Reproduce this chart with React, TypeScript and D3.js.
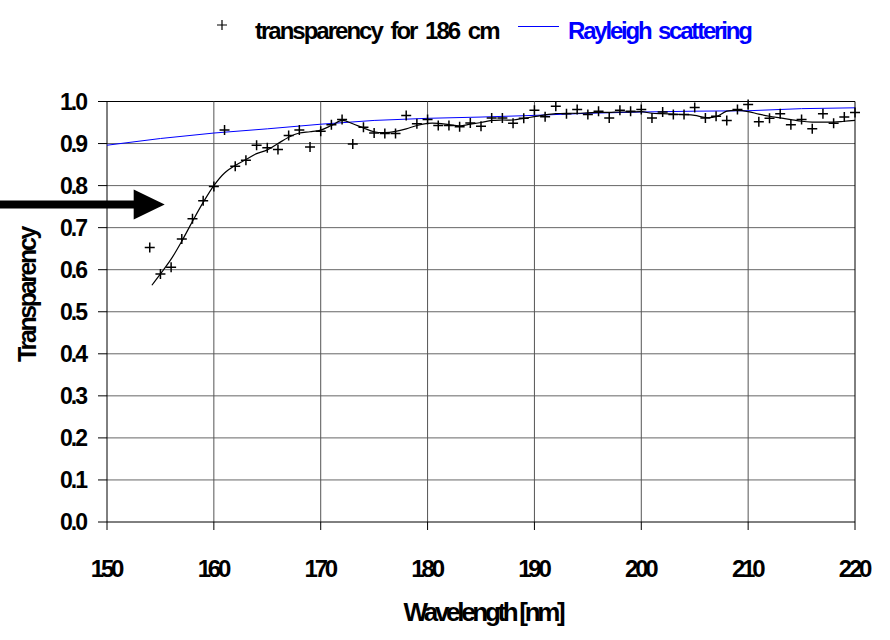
import React from 'react';
import * as d3 from 'd3';

// measured transparency, one point per nm
const measuredNm = [
  154, 155, 156, 157, 158, 159, 160, 161, 162, 163, 164, 165, 166, 167, 168, 169, 170,
  171, 172, 173, 174, 175, 176, 177, 178, 179, 180, 181, 182, 183, 184, 185, 186, 187,
  188, 189, 190, 191, 192, 193, 194, 195, 196, 197, 198, 199, 200, 201, 202, 203, 204,
  205, 206, 207, 208, 209, 210, 211, 212, 213, 214, 215, 216, 217, 218, 219, 220,
];
const measuredT = [
  0.653, 0.59, 0.606, 0.673, 0.721, 0.764, 0.798, 0.932, 0.846, 0.86, 0.896, 0.89, 0.886,
  0.919, 0.932, 0.892, 0.929, 0.945, 0.957, 0.899, 0.939, 0.925, 0.924, 0.924, 0.967,
  0.947, 0.957, 0.943, 0.943, 0.94, 0.949, 0.941, 0.961, 0.961, 0.948, 0.96, 0.979,
  0.964, 0.989, 0.971, 0.981, 0.969, 0.977, 0.961, 0.979, 0.977, 0.981, 0.961, 0.975,
  0.969, 0.969, 0.986, 0.961, 0.965, 0.955, 0.981, 0.993, 0.952, 0.96, 0.971, 0.945,
  0.957, 0.935, 0.971, 0.948, 0.963, 0.974,
];

// smoothed trend through the measurement
const trendNm = [
  154.2, 155, 156, 157, 158, 159, 160, 161, 162, 163, 164, 165, 166, 167, 168, 169, 170,
  171, 172, 173, 174, 175, 176, 177, 178, 179, 180, 181, 182, 183, 184, 185, 186, 187,
  188, 189, 190, 191, 192, 193, 194, 195, 196, 197, 198, 199, 200, 201, 202, 203, 204,
  205, 206, 207, 208, 209, 210, 211, 212, 213, 214, 215, 216, 217, 218, 219, 220,
];
const trendT = [
  0.563, 0.59, 0.625, 0.668, 0.715, 0.76, 0.8, 0.83, 0.848, 0.862, 0.876, 0.885, 0.9,
  0.915, 0.925, 0.928, 0.932, 0.943, 0.955, 0.947, 0.937, 0.928, 0.926, 0.929, 0.935,
  0.943, 0.948, 0.948, 0.945, 0.942, 0.946, 0.95, 0.955, 0.956, 0.956, 0.96, 0.964,
  0.968, 0.971, 0.972, 0.972, 0.973, 0.974, 0.974, 0.975, 0.975, 0.976, 0.972, 0.971,
  0.97, 0.969, 0.967, 0.962, 0.964, 0.977, 0.979, 0.976, 0.97, 0.965, 0.961, 0.957,
  0.953, 0.951, 0.951, 0.951, 0.953, 0.955,
];

// Rayleigh scattering curve
const rayleighNm = [150, 155, 160, 165, 170, 175, 180, 185, 190, 195, 200, 205, 210, 215, 220];
const rayleighT = [0.896, 0.912, 0.925, 0.935, 0.946, 0.955, 0.96, 0.963, 0.967, 0.972, 0.975, 0.977, 0.978, 0.983, 0.985];

const xTicks = [150, 160, 170, 180, 190, 200, 210, 220];
const yTicks = [0, 0.1, 0.2, 0.3, 0.4, 0.5, 0.6, 0.7, 0.8, 0.9, 1.0];

// arrow annotation: tip wavelength / level
const arrowTip = { nm: 155.4, t: 0.755 };

const width = 890;
const height = 640;
const margin = { top: 101.5, right: 35, bottom: 118, left: 107 };
const font = '"Liberation Sans", Arial, sans-serif';

export default function App() {
  const x = d3.scaleLinear().domain([150, 220]).range([margin.left, width - margin.right]);
  const y = d3.scaleLinear().domain([0, 1]).range([height - margin.bottom, margin.top]);

  const trendLine = d3.line<number>()
    .x((_, i) => x(trendNm[i]))
    .y(d => y(d))
    .curve(d3.curveCatmullRom);
  const rayleighLine = d3.line<number>()
    .x((_, i) => x(rayleighNm[i]))
    .y(d => y(d));

  const ay = y(arrowTip.t);
  const ax = x(arrowTip.nm);

  return (
    <svg width={width} height={height} style={{ position: 'absolute', left: 0, top: 0 }}>
      <rect width={width} height={height} fill="#fff" />

      {/* grid */}
      {yTicks.slice(1).map(t => (
        <line key={'gy' + t} x1={x(150)} x2={x(220)} y1={y(t)} y2={y(t)}
          stroke={t === 1 ? '#000' : '#666'} strokeWidth={1} />
      ))}
      {xTicks.slice(1).map(t => (
        <line key={'gx' + t} x1={x(t)} x2={x(t)} y1={y(0)} y2={y(1)}
          stroke={t === 220 ? '#000' : '#555'} strokeWidth={1} />
      ))}

      {/* axes */}
      <line x1={x(150)} x2={x(150)} y1={y(0)} y2={y(1)} stroke="#000" />
      <line x1={x(150)} x2={x(220)} y1={y(0)} y2={y(0)} stroke="#000" />
      {yTicks.map(t => (
        <g key={'ty' + t}>
          <line x1={x(150) - 9} x2={x(150)} y1={y(t)} y2={y(t)} stroke="#000" />
          <text x={x(150) - 21} y={y(t)} dy="0.36em" textAnchor="end" fontFamily={font}
            fontWeight="bold" fontSize={23} letterSpacing={-2}>{t.toFixed(1)}</text>
        </g>
      ))}
      {xTicks.map(t => (
        <g key={'tx' + t}>
          <line x1={x(t)} x2={x(t)} y1={y(0)} y2={y(0) + 8} stroke="#000" />
          <text x={x(t) - 1} y={y(0) + 55} textAnchor="middle" fontFamily={font}
            fontWeight="bold" fontSize={24} letterSpacing={-3.2}>{t}</text>
        </g>
      ))}

      <text x={483} y={621} textAnchor="middle" fontFamily={font}
        fontWeight="bold" fontSize={26} letterSpacing={-3.3}>Wavelength [nm]</text>
      <text transform="translate(36,295) rotate(-90)" textAnchor="middle"
        fontFamily={font} fontWeight="bold" fontSize={25} letterSpacing={-2.4}>Transparency</text>

      {/* series */}
      <path d={rayleighLine(rayleighT) ?? ''} fill="none" stroke="#0000ff" strokeWidth={1} />
      <path d={trendLine(trendT) ?? ''} fill="none" stroke="#000" strokeWidth={1.2} />
      {measuredT.map((t, i) => {
        const cx = x(measuredNm[i]);
        const cy = y(t);
        return (
          <path key={'m' + i} d={`M${cx - 5},${cy}H${cx + 5}M${cx},${cy - 5}V${cy + 5}`}
            stroke="#000" strokeWidth={1.5} />
        );
      })}

      {/* arrow */}
      <line x1={0} x2={ax - 30} y1={ay} y2={ay} stroke="#000" strokeWidth={8} />
      <path d={`M${ax - 31},${ay - 15}L${ax},${ay}L${ax - 31},${ay + 15}Z`} fill="#000" />

      {/* legend */}
      <path d="M217,25H227M222,20V30" stroke="#000" strokeWidth={1.2} />
      <text x={255} y={39} fontFamily={font} fontWeight="bold" fontSize={24}
        letterSpacing={-2} wordSpacing={4}>transparency for 186 cm</text>
      <line x1={518} x2={559} y1={26.5} y2={26.5} stroke="#0000ff" strokeWidth={1} />
      <text x={568} y={39} fontFamily={font} fontWeight="bold" fontSize={24}
        letterSpacing={-2.2} fill="#0000ff" wordSpacing={3}>Rayleigh scattering</text>
    </svg>
  );
}
